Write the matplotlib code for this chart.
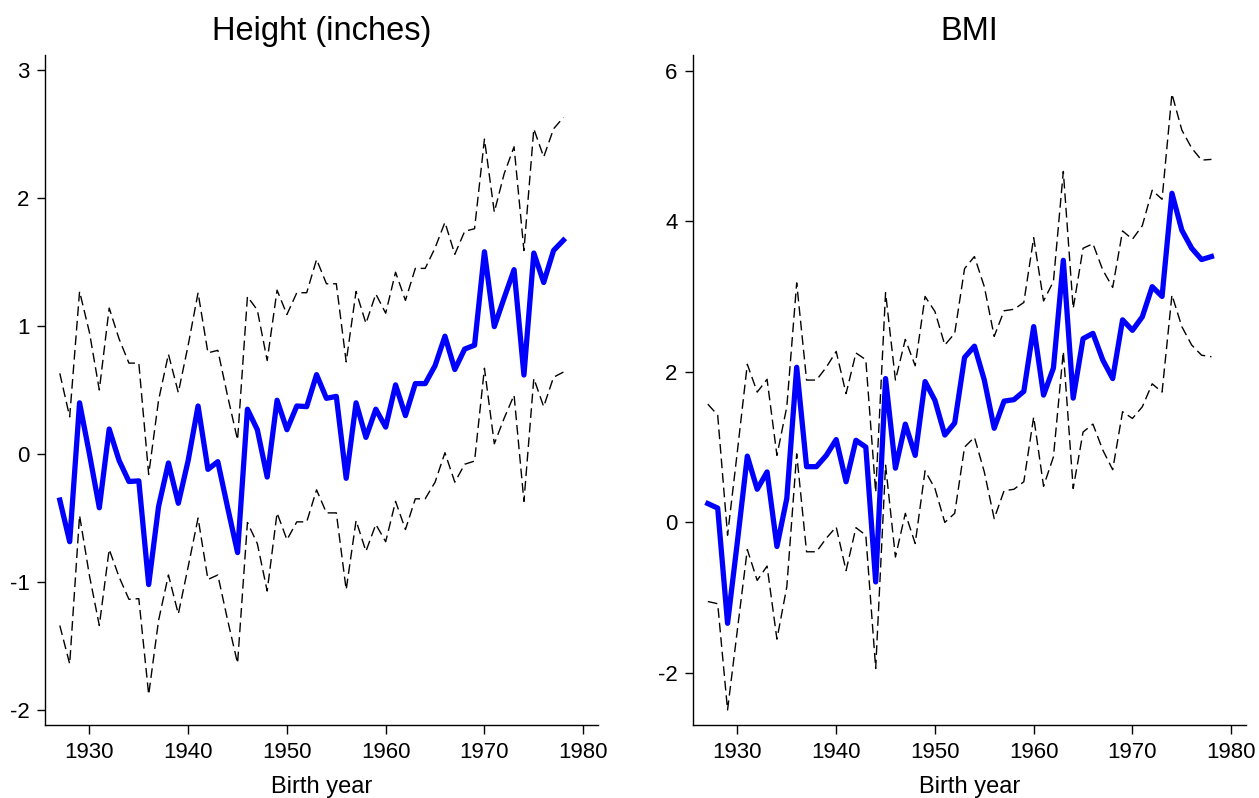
import numpy as np
import matplotlib.pyplot as plt

plt.rcParams['font.family'] = ['Liberation Sans', 'DejaVu Sans']

years = np.arange(1927, 1979)

# Height (inches): estimate and confidence bounds
height_est = [-0.36, -0.685, 0.40, 0.0, -0.42, 0.195, -0.05, -0.215, -0.21, -1.02,
              -0.41, -0.07, -0.385, -0.05, 0.375, -0.12, -0.06, -0.42, -0.77, 0.35,
              0.19, -0.18, 0.42, 0.19, 0.375, 0.37, 0.62, 0.435, 0.45, -0.19,
              0.40, 0.13, 0.35, 0.21, 0.54, 0.30, 0.55, 0.55, 0.69, 0.92,
              0.66, 0.82, 0.85, 1.58, 0.995, 1.22, 1.44, 0.617, 1.57, 1.34,
              1.59, 1.67]
height_hi = [0.63, 0.29, 1.27, 0.95, 0.50, 1.14, 0.90, 0.71, 0.71, -0.16,
             0.42, 0.78, 0.48, 0.85, 1.26, 0.79, 0.81, 0.45, 0.11, 1.23,
             1.125, 0.73, 1.28, 1.09, 1.26, 1.26, 1.52, 1.33, 1.33, 0.72,
             1.27, 1.02, 1.25, 1.10, 1.42, 1.20, 1.45, 1.45, 1.61, 1.81,
             1.56, 1.74, 1.76, 2.46, 1.89, 2.19, 2.40, 1.59, 2.54, 2.32,
             2.54, 2.63]
height_lo = [-1.34, -1.64, -0.48, -0.95, -1.34, -0.745, -0.96, -1.135, -1.13, -1.88,
             -1.30, -0.945, -1.25, -0.88, -0.50, -0.98, -0.945, -1.30, -1.635, -0.535,
             -0.70, -1.07, -0.46, -0.67, -0.53, -0.53, -0.28, -0.46, -0.46, -1.06,
             -0.52, -0.76, -0.55, -0.685, -0.37, -0.59, -0.35, -0.35, -0.22, 0.01,
             -0.22, -0.08, -0.055, 0.67, 0.08, 0.28, 0.46, -0.37, 0.59, 0.37,
             0.60, 0.64]

# BMI: estimate and confidence bounds
bmi_est = [0.25, 0.19, -1.34, -0.25, 0.88, 0.44, 0.67, -0.32, 0.32, 2.06,
           0.74, 0.74, 0.89, 1.10, 0.54, 1.09, 1.00, -0.79, 1.91, 0.72,
           1.305, 0.89, 1.87, 1.62, 1.16, 1.32, 2.19, 2.34, 1.89, 1.25,
           1.61, 1.63, 1.74, 2.60, 1.69, 2.05, 3.48, 1.65, 2.44, 2.51,
           2.155, 1.91, 2.69, 2.55, 2.73, 3.13, 3.00, 4.37, 3.88, 3.64,
           3.49, 3.53]
bmi_hi = [1.57, 1.425, -0.17, 0.95, 2.10, 1.73, 1.90, 0.89, 1.535, 3.18,
          1.89, 1.89, 2.06, 2.27, 1.71, 2.25, 2.16, 0.40, 3.05, 1.89,
          2.43, 2.08, 3.00, 2.80, 2.355, 2.51, 3.37, 3.53, 3.13, 2.47,
          2.81, 2.83, 2.92, 3.78, 2.94, 3.20, 4.66, 2.84, 3.64, 3.70,
          3.35, 3.12, 3.87, 3.76, 3.94, 4.41, 4.29, 5.69, 5.21, 4.97,
          4.81, 4.82]
bmi_lo = [-1.05, -1.08, -2.49, -1.42, -0.36, -0.77, -0.58, -1.55, -0.855, 0.91,
          -0.39, -0.39, -0.21, -0.06, -0.64, -0.07, -0.17, -1.94, 0.76, -0.46,
          0.12, -0.28, 0.685, 0.45, 0.0, 0.12, 1.00, 1.13, 0.67, 0.05,
          0.42, 0.44, 0.54, 1.40, 0.48, 0.87, 2.27, 0.45, 1.20, 1.305,
          0.96, 0.70, 1.47, 1.38, 1.535, 1.84, 1.73, 3.02, 2.60, 2.355,
          2.22, 2.20]

panels = [
    ("Height (inches)", height_est, height_lo, height_hi, (-2.117, 3.117), [-2, -1, 0, 1, 2, 3]),
    ("BMI", bmi_est, bmi_lo, bmi_hi, (-2.69, 6.206), [-2, 0, 2, 4, 6]),
]

W, H = 1259, 798
fig = plt.figure(figsize=(W / 100, H / 100), dpi=100)
lefts = [45 / W, 693 / W]

for left, (title, est, lo, hi, ylim, yticks) in zip(lefts, panels):
    ax = fig.add_axes([left, 73 / H, 553 / W, 670 / H])
    ax.plot(years, hi, color='black', lw=1.0, dashes=(7, 3.5))
    ax.plot(years, lo, color='black', lw=1.0, dashes=(7, 3.5))
    ax.plot(years, est, color='#0000ff', lw=3.8, solid_joinstyle='round')
    ax.set_xlim(1925.5, 1981.5)
    ax.set_ylim(*ylim)
    ax.set_xticks([1930, 1940, 1950, 1960, 1970, 1980])
    ax.set_yticks(yticks)
    ax.set_yticklabels([str(t) for t in yticks])
    for s in ['top', 'right']:
        ax.spines[s].set_visible(False)
    for s in ['left', 'bottom']:
        ax.spines[s].set_linewidth(1.0)
    ax.tick_params(axis='x', direction='out', length=6.5, width=1.0, labelsize=16, pad=6)
    ax.tick_params(axis='y', direction='out', length=6, width=1.0, labelsize=16, pad=5)
    ax.set_xlabel("Birth year", fontsize=17, labelpad=9)
    ax.set_title(title, fontsize=23.5, pad=11)

fig.savefig("out.png", dpi=100)
